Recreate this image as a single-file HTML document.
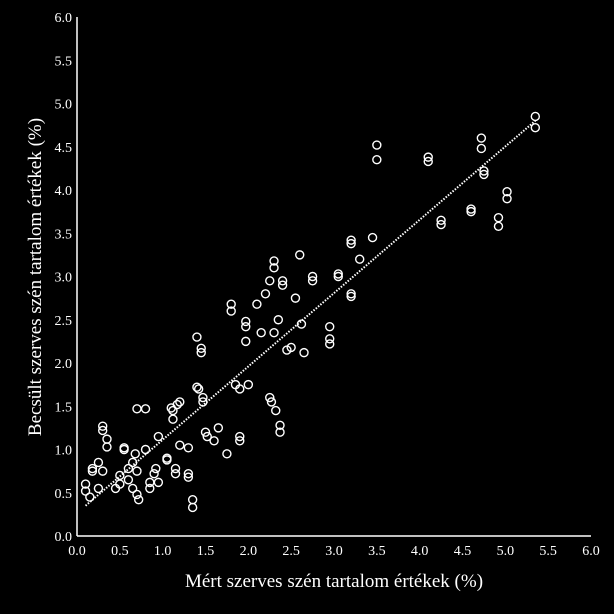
<!DOCTYPE html>
<html><head><meta charset="utf-8"><style>
html,body{margin:0;padding:0;background:#000;}
svg{display:block;font-family:"Liberation Serif",serif;}
</style></head><body>
<svg id="chart" width="614" height="614">
<rect width="614" height="614" fill="#000"/>
<g id="axes"></g><g id="marks"></g>
<text x="334" y="587" fill="#fff" font-size="19" text-anchor="middle">Mért szerves  szén tartalom értékek (%)</text>
<text transform="translate(41,277) rotate(-90)" fill="#fff" font-size="19" text-anchor="middle">Becsült szerves  szén tartalom értékek (%)</text>
</svg>
<script>
const xTicks=["0.0","0.5","1.0","1.5","2.0","2.5","3.0","3.5","4.0","4.5","5.0","5.5","6.0"];
const yTicks=["0.0","0.5","1.0","1.5","2.0","2.5","3.0","3.5","4.0","4.5","5.0","5.5","6.0"];
const measured=[0.1,0.1,0.15,0.18,0.18,0.25,0.25,0.3,0.3,0.3,0.35,0.35,0.45,0.5,0.5,0.55,0.55,0.6,0.6,0.65,0.65,0.68,0.7,0.7,0.72,0.7,0.8,0.8,0.85,0.85,0.9,0.92,0.95,0.95,1.05,1.05,1.1,1.12,1.12,1.15,1.15,1.17,1.2,1.2,1.3,1.3,1.3,1.35,1.35,1.4,1.4,1.42,1.45,1.45,1.47,1.47,1.5,1.52,1.6,1.65,1.75,1.8,1.8,1.85,1.9,1.9,1.9,1.97,1.97,1.97,2.0,2.1,2.15,2.2,2.25,2.27,2.25,2.3,2.3,2.3,2.35,2.32,2.37,2.37,2.4,2.4,2.45,2.5,2.55,2.6,2.62,2.65,2.75,2.75,2.95,2.95,2.95,3.05,3.05,3.2,3.2,3.2,3.2,3.3,3.45,3.5,3.5,4.1,4.1,4.25,4.25,4.6,4.6,4.72,4.72,4.75,4.75,4.92,4.92,5.02,5.02,5.35,5.35];
const estimated=[0.6,0.52,0.45,0.78,0.75,0.85,0.55,1.27,1.22,0.75,1.12,1.03,0.55,0.6,0.7,1.02,1.0,0.78,0.65,0.85,0.55,0.95,0.75,0.48,0.42,1.47,1.47,1.0,0.55,0.62,0.72,0.78,1.15,0.62,0.88,0.9,1.48,1.45,1.35,0.78,0.72,1.52,1.55,1.05,1.02,0.72,0.68,0.42,0.33,2.3,1.72,1.7,2.17,2.12,1.6,1.55,1.2,1.15,1.1,1.25,0.95,2.68,2.6,1.75,1.7,1.15,1.1,2.48,2.42,2.25,1.75,2.68,2.35,2.8,1.6,1.55,2.95,3.18,3.1,2.35,2.5,1.45,1.28,1.2,2.95,2.9,2.15,2.18,2.75,3.25,2.45,2.12,3.0,2.95,2.42,2.28,2.22,3.03,3.0,3.42,3.38,2.8,2.77,3.2,3.45,4.52,4.35,4.38,4.33,3.65,3.6,3.78,3.75,4.6,4.48,4.22,4.18,3.68,3.58,3.98,3.9,4.85,4.72];
const trendX=[0.1,5.35];
const trendY=[0.35,4.8];
const NS="http://www.w3.org/2000/svg";
const X0=77,X1=591,Y0=536,Y1=17,MAX=6;
function sx(v){return X0+(X1-X0)*v/MAX;}
function sy(v){return Y0-(Y0-Y1)*v/MAX;}
function mk(t,a,p){const e=document.createElementNS(NS,t);for(const k in a)e.setAttribute(k,a[k]);p.appendChild(e);return e;}
const axes=document.getElementById('axes'),marks=document.getElementById('marks');
let e=mk('line',{x1:X0,y1:Y0,x2:X1,y2:Y0,stroke:'#fff','stroke-width':1.5},axes);


e=mk('line',{x1:X0,y1:Y0,x2:X0,y2:Y1,stroke:'#fff','stroke-width':1.5},axes);


xTicks.forEach(t=>{const el=mk('text',{x:sx(parseFloat(t)),y:Y0+19,fill:'#fff','font-size':14,'text-anchor':'middle'},axes);el.textContent=t;

});
yTicks.forEach(t=>{const el=mk('text',{x:X0-5,y:sy(parseFloat(t))+5,fill:'#fff','font-size':14,'text-anchor':'end'},axes);el.textContent=t;

});
const tl=mk('line',{x1:sx(trendX[0]),y1:sy(trendY[0]),x2:sx(trendX[1]),y2:sy(trendY[1]),stroke:'#fff','stroke-width':2,'stroke-dasharray':'1.5 1.5'},marks);


measured.forEach((m,i)=>{const c=mk('circle',{cx:sx(m),cy:sy(estimated[i]),r:4,fill:'none',stroke:'#fff','stroke-width':1.4},marks);

});
</script>
</body></html>
